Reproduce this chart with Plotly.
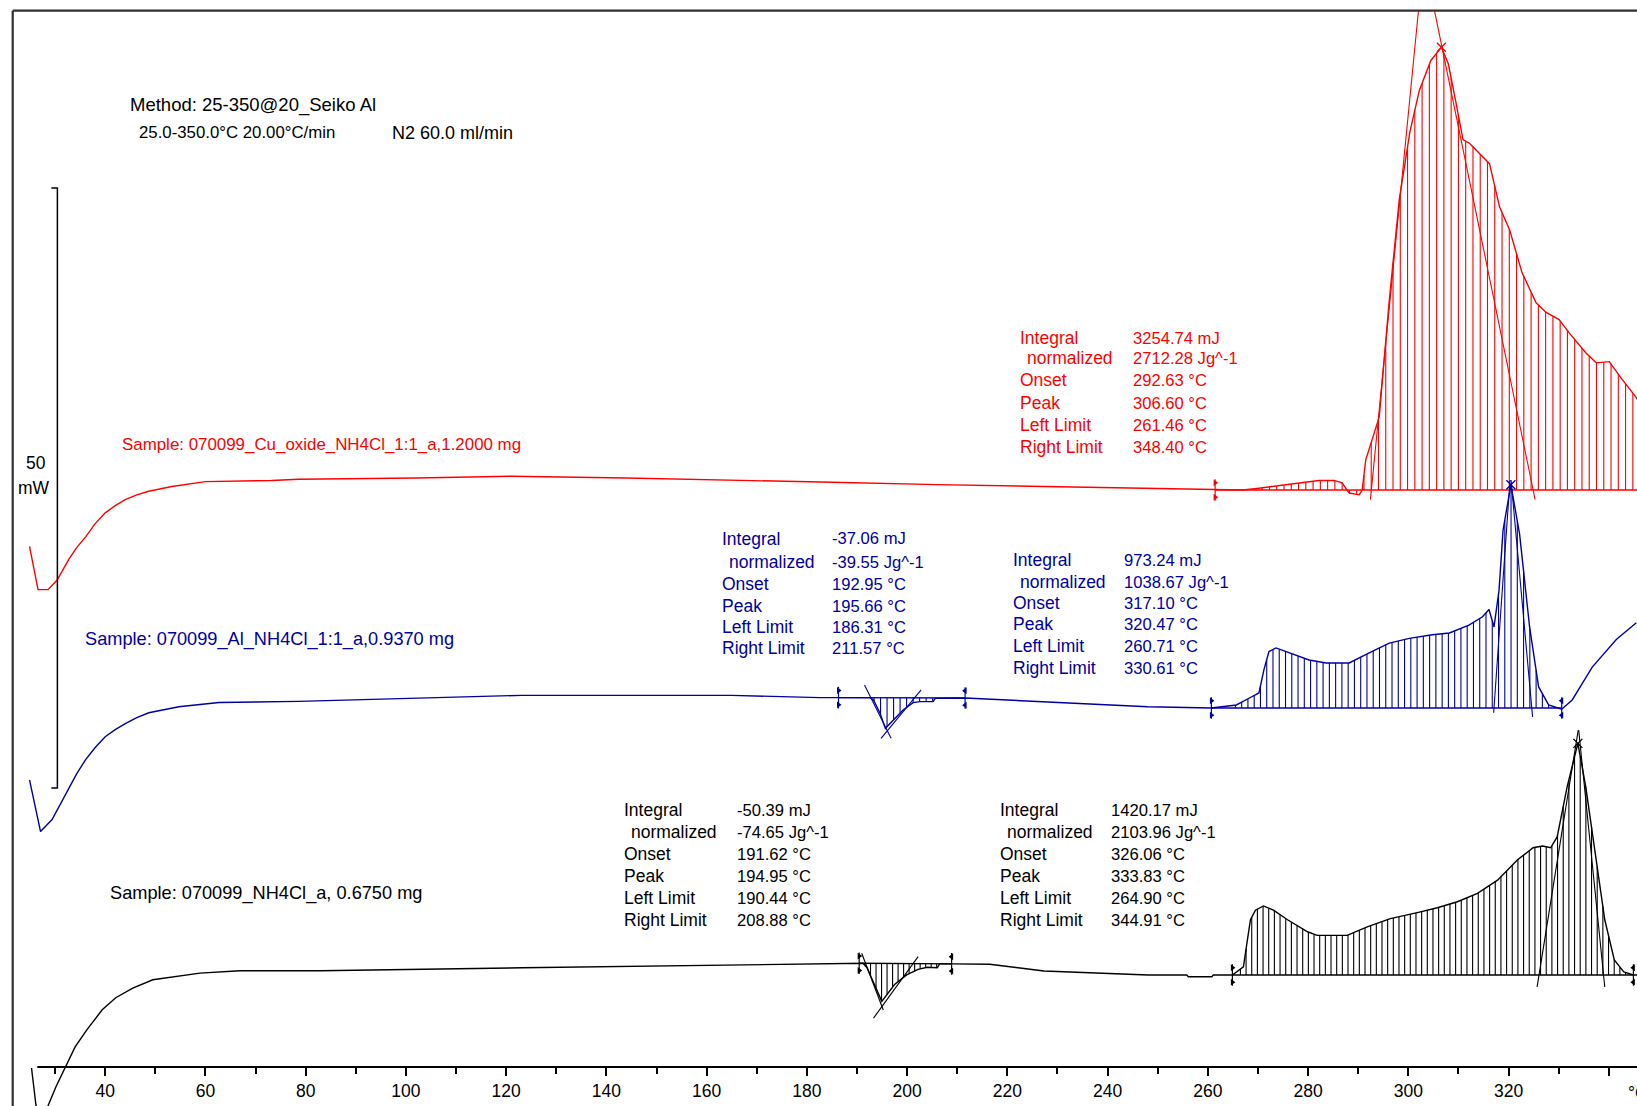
import numpy as np
import plotly.graph_objects as go

# ---------------- data (heat flow in mW, relative to each curve's own baseline) ----------------
red_T = [24.9, 26.6, 28.6, 30.4, 31.5, 32.7, 34.3, 36.1, 38.0, 40.0, 42.0, 44.0, 46.3, 48.7, 53.3,
         60.0, 73.2, 78.6, 102.0, 121.0,
         144.0, 165.0, 185.0, 206.0, 227.0, 248.0, 261.5, 267.0, 270.2, 275.2, 278.2, 282.2, 285.2,
         286.8, 288.2, 290.2, 290.8, 291.5, 294.2, 296.2, 298.2, 300.3, 302.2, 304.5, 306.6, 308.0,
         309.5, 310.9, 312.2, 314.8, 316.2, 318.2, 320.2, 322.7, 325.5, 327.5, 330.1, 332.1, 335.5,
         337.5, 340.1, 342.7, 345.5, 348.4]
red_mW = [-4.7, -8.3, -8.3, -7.5, -6.7, -5.8, -4.8, -3.9, -2.8, -1.9, -1.3, -0.8, -0.4, -0.1, 0.3,
          0.7, 0.8, 0.9, 1.0, 1.15,
          1.0, 0.85, 0.65, 0.45, 0.3, 0.15, 0.0, 0.0, 0.15, 0.4, 0.6, 0.8, 0.8,
          0.6, -0.25, -0.4, 0.0, 2.5, 6.1, 15.8, 24.2, 29.8, 33.3, 35.8, 36.9, 35.5,
          32.3, 29.2, 28.9, 27.8, 27.2, 23.6, 21.7, 18.1, 15.6, 14.8, 14.2, 13.1, 11.4,
          10.6, 10.7, 9.2, 7.7, 5.5]

blue_T = [24.9, 27.1, 29.4, 31.0, 32.7, 34.3, 36.1, 38.0, 40.0, 42.0, 44.0, 46.3, 48.7, 54.7, 62.7,
          78.6, 123.0, 165.0, 182.6,
          186.3, 192.6, 193.3, 194.6, 195.66, 197.5, 199.2, 201.2, 202.6, 205.2, 205.6, 211.6,
          227.0, 248.0, 260.7, 265.7, 268.3, 270.2, 271.2, 272.2, 273.6, 276.2, 280.2, 283.6,
          288.2, 292.2, 296.2, 300.2, 304.8, 308.2, 312.1, 314.8, 316.1, 317.1, 318.1, 318.9,
          320.47, 322.2, 324.2, 326.0, 328.0, 330.6, 332.7, 336.7, 341.5, 345.5]
blue_mW = [-6.0, -10.3, -9.3, -8.1, -6.8, -5.5, -4.3, -3.3, -2.4, -1.8, -1.3, -0.8, -0.4, 0.1, 0.45,
           0.55, 1.05, 1.05, 0.86,
           0.86, 0.86, 0.67, -0.44, -1.7, -0.9, -0.17, 0.44, 0.53, 0.53, 0.8, 0.83,
           0.54, 0.1, 0.0, 0.25, 0.83, 1.25, 3.2, 4.7, 5.0, 4.6, 4.0, 3.75,
           3.75, 4.6, 5.4, 5.8, 6.1, 6.25, 6.9, 7.6, 8.2, 6.75, 9.8, 14.8,
           18.6, 14.5, 6.75, 1.75, 0.25, -0.1, 0.67, 3.4, 5.7, 7.1]

black_T = [25.3, 26.2, 27.4, 28.6, 30.2, 32.2, 34.0, 36.3, 39.4, 42.1, 45.5, 49.5, 54.3, 58.9,
           66.9, 82.9, 123.2, 164.9, 190.4, 191.2, 192.0, 194.95, 197.5, 199.9, 202.2, 204.0,
           206.0, 206.5, 208.9, 216.5, 227.3, 248.1, 255.8, 256.1, 260.8, 261.1, 264.9, 267.1,
           268.5, 269.5, 271.1, 273.1, 275.9, 279.9, 281.8, 287.8, 291.8, 296.4, 301.8, 305.8,
           309.8, 313.8, 317.8, 321.8, 324.9, 326.8, 328.4, 329.7, 331.7, 333.83, 335.4, 337.3,
           339.2, 341.1, 343.0, 344.91, 346.0]
black_mW = [-7.75, -10.9, -12.5, -10.9, -9.3, -7.5, -6.0, -4.6, -2.9, -1.9, -1.1, -0.4, -0.15, 0.15,
            0.35, 0.35, 0.6, 0.8, 0.97, 0.97, 0.6, -2.2, -0.8, 0.0, 0.47, 0.64,
            0.6, 0.92, 0.92, 0.89, 0.33, 0.0, 0.0, -0.15, -0.15, 0.0, 0.0, 0.67,
            4.6, 5.4, 5.75, 5.4, 4.6, 3.6, 3.3, 3.3, 4.0, 4.7, 5.2, 5.6,
            6.1, 6.8, 7.9, 9.6, 10.6, 10.75, 10.6, 11.5, 15.7, 19.3, 15.7, 10.2,
            4.6, 1.25, 0.25, 0.0, 0.0]

# vertical stacking of the three runs (mW)
red_offset, blue_offset, black_offset = 51.33, 33.17, 10.92

# evaluated peaks: (left limit, right limit, baseline at left, baseline at right)
red_peak = (261.46, 348.40, 0.0, 0.0)
blue_peak1 = (186.31, 211.57, 0.86, 0.83)
blue_peak2 = (260.71, 330.61, 0.0, 0.0)
black_peak1 = (190.44, 208.88, 0.97, 0.92)
black_peak2 = (264.90, 344.91, 0.0, 0.0)

# onset tangents ((T0, mW0), (T1, mW1))
red_tangents = [((292.44, -0.8), (302.04, 40.0)), ((305.2, 40.0), (325.3, -0.8))]
blue_tangents = [((191.5, 1.92), (196.8, -2.53)), ((194.8, -2.53), (202.8, 1.5)),
                 ((317.03, -0.4), (320.3, 19.0)), ((320.5, 19.0), (324.8, -0.75))]
black_tangents = [((190.94, 1.81), (195.25, -2.92)), ((193.3, -3.6), (202.2, 1.53)),
                  ((325.7, -1.0), (333.9, 20.4)), ((334.0, 20.4), (339.2, -1.0))]

# peak positions (T, mW)
red_peak_pt = (306.60, 36.9)
blue_peak_pt = (320.47, 18.6)
black_peak_pt = (333.83, 19.3)

labels = ["Integral", "normalized", "Onset", "Peak", "Left Limit", "Right Limit"]
red_vals = ["3254.74 mJ", "2712.28 Jg^-1", "292.63 °C", "306.60 °C", "261.46 °C", "348.40 °C"]
blue_vals1 = ["-37.06 mJ", "-39.55 Jg^-1", "192.95 °C", "195.66 °C", "186.31 °C", "211.57 °C"]
blue_vals2 = ["973.24 mJ", "1038.67 Jg^-1", "317.10 °C", "320.47 °C", "260.71 °C", "330.61 °C"]
black_vals1 = ["-50.39 mJ", "-74.65 Jg^-1", "191.62 °C", "194.95 °C", "190.44 °C", "208.88 °C"]
black_vals2 = ["1420.17 mJ", "2103.96 Jg^-1", "326.06 °C", "333.83 °C", "264.90 °C", "344.91 °C"]

tick_vals = [40, 60, 80, 100, 120, 140, 160, 180, 200, 220, 240, 260, 280, 300, 320, 340]
tick_text = ["40", "60", "80", "100", "120", "140", "160", "180", "200", "220", "240", "260",
             "280", "300", "320", ""]
minor_vals = [30, 50, 70, 90, 110, 130, 150, 170, 190, 210, 230, 250, 270, 290, 310, 330]

scale_bar_mW = 50

# ---------------- styling ----------------
W, H = 1637, 1106
T_MIN, T_MAX = 19.01, 345.63
Y_MIN, Y_MAX = 0.0, 92.1667
RED, BLUE, BLACK = "#ff0000", "#0000a0", "#000000"
FONT = "Liberation Sans, Arial, sans-serif"
FS = 17.5


def px(x):
    return x / W


def py(y):
    return 1 - y / H


fig = go.Figure()


def add_line(xs, ys, color, width=1.4):
    fig.add_trace(go.Scatter(x=xs, y=ys, mode="lines", line=dict(color=color, width=width),
                             hoverinfo="skip", showlegend=False))


def hatch(T, mW, off, peak, t0, t1, step, color):
    tl, tr, bl, br = peak
    xs, ys = [], []
    for t in np.arange(t0, t1, step):
        yc = float(np.interp(t, T, mW))
        yb = bl + (br - bl) * (t - tl) / (tr - tl)
        xs += [t, t, None]
        ys += [yb + off, yc + off, None]
    add_line(xs, ys, color, 1.1)


def limits(peak, off, color):
    tl, tr, bl, br = peak
    add_line([tl, tr], [bl + off, br + off], color, 1.4)
    for t, b, sym in ((tl, bl, "triangle-right"), (tr, br, "triangle-left")):
        add_line([t, t], [b + off - 0.9, b + off + 0.9], color, 1.2)
        fig.add_trace(go.Scatter(x=[t, t], y=[b + off + 0.6, b + off - 0.6], mode="markers",
                                 marker=dict(symbol=sym, size=6, color=color),
                                 hoverinfo="skip", showlegend=False, cliponaxis=False))


def tangents(tlist, off, color):
    for (a, b) in tlist:
        add_line([a[0], b[0]], [a[1] + off, b[1] + off], color, 1.1)


def peak_mark(pt, off, color):
    fig.add_trace(go.Scatter(x=[pt[0]], y=[pt[1] + off], mode="markers",
                             marker=dict(symbol="x-thin", size=9, line=dict(width=1.3, color=color)),
                             hoverinfo="skip", showlegend=False))


# red run
hatch(red_T, red_mW, red_offset, red_peak, 266.5, T_MAX, 1.45, RED)
limits(red_peak, red_offset, RED)
tangents(red_tangents, red_offset, RED)
add_line(red_T, [v + red_offset for v in red_mW], RED)
peak_mark(red_peak_pt, red_offset, RED)

# blue run
hatch(blue_T, blue_mW, blue_offset, blue_peak1, 193.4, 205.2, 1.3, BLUE)
hatch(blue_T, blue_mW, blue_offset, blue_peak2, 265.5, 330.0, 1.25, BLUE)
limits(blue_peak1, blue_offset, BLUE)
limits(blue_peak2, blue_offset, BLUE)
tangents(blue_tangents, blue_offset, BLUE)
add_line(blue_T, [v + blue_offset for v in blue_mW], BLUE)
peak_mark(blue_peak_pt, blue_offset, BLUE)

# black run
hatch(black_T, black_mW, black_offset, black_peak1, 191.6, 206.0, 1.1, BLACK)
hatch(black_T, black_mW, black_offset, black_peak2, 266.5, 344.0, 1.13, BLACK)
limits(black_peak1, black_offset, BLACK)
limits(black_peak2, black_offset, BLACK)
tangents(black_tangents, black_offset, BLACK)
add_line(black_T, [v + black_offset for v in black_mW], BLACK)
peak_mark(black_peak_pt, black_offset, BLACK)

# 50 mW scale bar
sb_T, sb_low = 30.46, 26.5
add_line([sb_T - 1.2, sb_T, sb_T, sb_T - 1.2],
         [sb_low + scale_bar_mW, sb_low + scale_bar_mW, sb_low, sb_low], BLACK, 1.5)

# ---------------- text ----------------
ann = []


def text(x, y, s, color=BLACK, anchor="left", size=FS):
    ann.append(dict(x=px(x), y=py(y), xref="paper", yref="paper", text=s, showarrow=False,
                    xanchor=anchor, yanchor="middle", font=dict(family=FONT, size=size, color=color)))


def block(xl, xv, rows, vals, color):
    for i, (lab, val) in enumerate(zip(labels, vals)):
        text(xl + (7 if i == 1 else 0), rows[i], lab, color)
        text(xv, rows[i], val, color, size=16.6)


text(128, 105, "Method: 25-350@20_Seiko Al", size=18.5)
text(137, 133, "25.0-350.0°C 20.00°C/min", size=16.8)
text(390, 133, "N2 60.0 ml/min", size=18)
text(36, 463, "50", anchor="center")
text(16, 488, "mW")

text(120, 444, "Sample: 070099_Cu_oxide_NH4Cl_1:1_a,1.2000 mg", RED, size=16.9)
text(83, 639, "Sample: 070099_Al_NH4Cl_1:1_a,0.9370 mg", BLUE, size=18.2)
text(108, 894, "Sample: 070099_NH4Cl_a, 0.6750 mg", BLACK, size=18.2)

block(1018, 1131, [338, 358, 380, 403, 425, 447], red_vals, RED)
block(720, 830, [539, 562, 584, 606, 627, 648], blue_vals1, BLUE)
block(1011, 1122, [560, 582, 603, 624, 646, 668], blue_vals2, BLUE)
block(622, 735, [810, 832, 854, 876, 898, 920], black_vals1, BLACK)
block(998, 1109, [810, 832, 854, 876, 898, 920], black_vals2, BLACK)

text(1626, 1093, "°C")

# ---------------- frame and temperature axis line ----------------
shapes = [
    dict(type="line", xref="paper", yref="paper", x0=px(12.7), x1=px(12.7), y0=0, y1=py(10.7),
         line=dict(color="#303030", width=2.2)),
    dict(type="line", xref="paper", yref="paper", x0=px(12.7), x1=1, y0=py(10.7), y1=py(10.7),
         line=dict(color="#303030", width=2.2)),
    dict(type="line", xref="paper", yref="paper", x0=px(37.3), x1=1, y0=py(1067), y1=py(1067),
         line=dict(color=BLACK, width=2)),
]

fig.update_layout(
    width=W, height=H, margin=dict(l=0, r=0, t=0, b=0),
    paper_bgcolor="white", plot_bgcolor="white",
    showlegend=False, annotations=ann, shapes=shapes,
    xaxis=dict(range=[T_MIN, T_MAX], anchor="free", position=1 - 1067 / H,
               showline=False, showgrid=False, zeroline=False,
               tickmode="array", tickvals=tick_vals, ticktext=tick_text,
               ticks="outside", ticklen=8, tickwidth=1.5, tickcolor=BLACK,
               tickfont=dict(family=FONT, size=FS, color=BLACK),
               minor=dict(tickmode="array", tickvals=minor_vals, ticks="outside", ticklen=6,
                          tickwidth=1.5, tickcolor=BLACK, showgrid=False)),
    yaxis=dict(range=[Y_MIN, Y_MAX], visible=False, showgrid=False, zeroline=False),
)

fig.write_html("out.html")
